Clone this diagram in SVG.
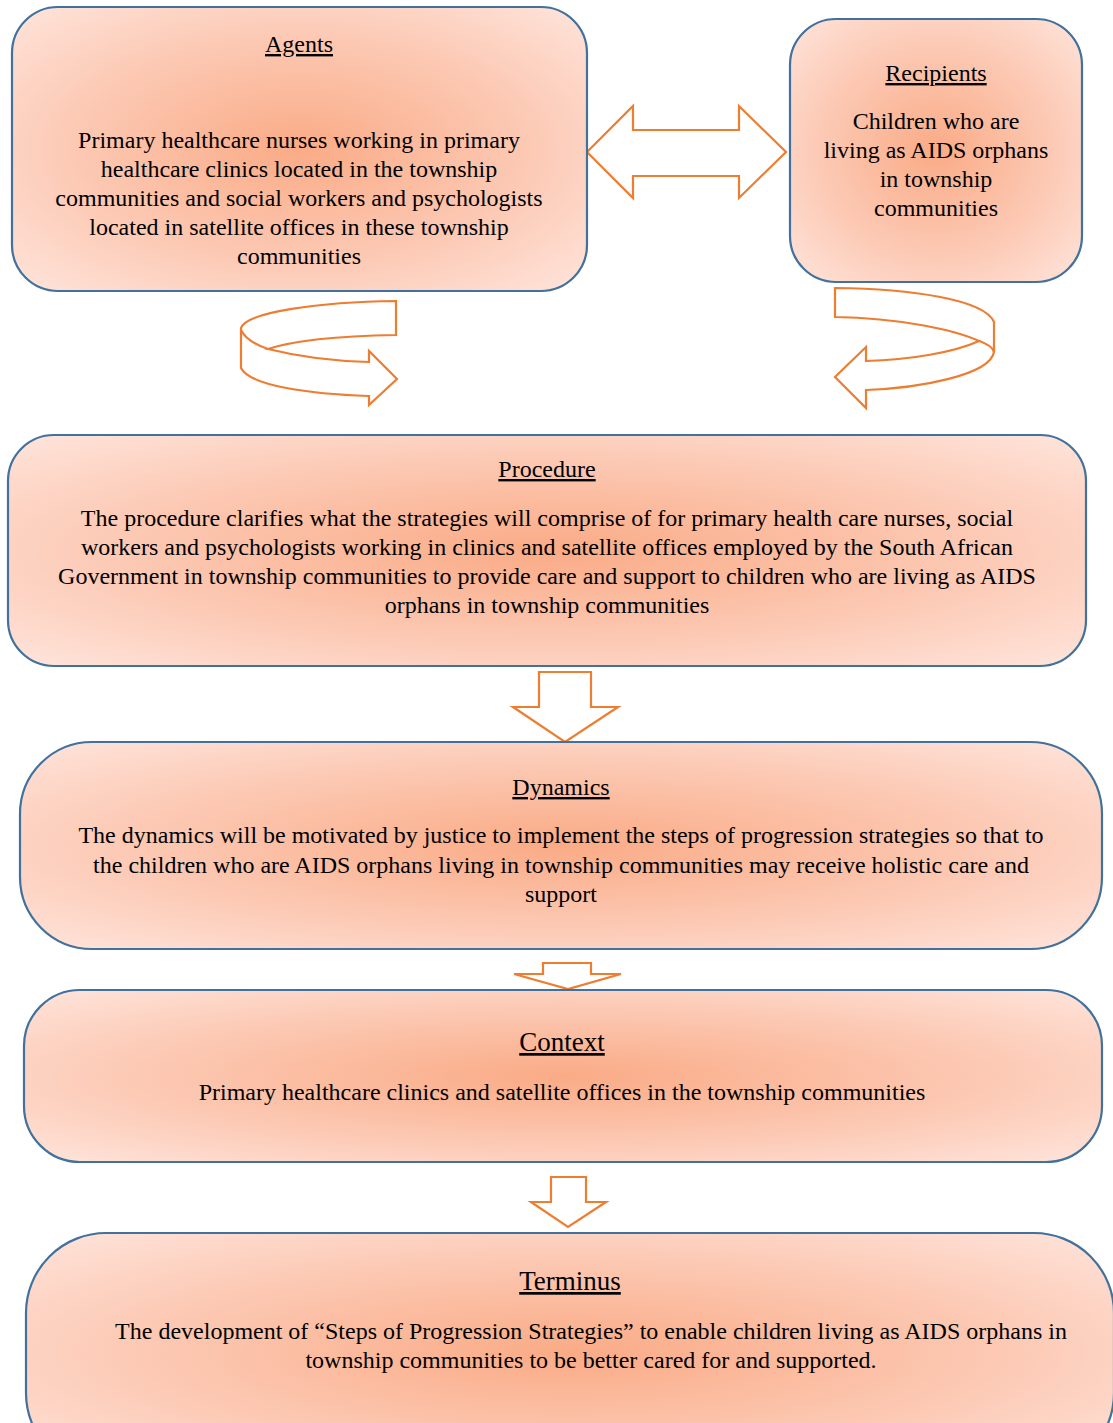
<svg xmlns="http://www.w3.org/2000/svg" width="1113" height="1423" viewBox="0 0 1113 1423">
<defs>
<radialGradient id="g" cx="0.5" cy="0.5" r="0.72" gradientUnits="objectBoundingBox">
<stop offset="0" stop-color="#FAAB86"/>
<stop offset="0.55" stop-color="#FCC9B4"/>
<stop offset="1" stop-color="#FFE6DE"/>
</radialGradient>
<style>
.box{fill:url(#g);stroke:#41719C;stroke-width:2.2}
.arr{fill:#FFFFFF;stroke:#ED7D31;stroke-width:2.2;stroke-linejoin:miter}
.fold{fill:none;stroke:#ED7D31;stroke-width:2.2}
text{font-family:"Liberation Serif","Times New Roman",serif;font-size:24px;fill:#000;text-anchor:middle}
.t{text-decoration:underline}
.big{font-size:27px}
</style>
</defs>
<rect width="1113" height="1423" fill="#FFFFFF"/>
<g id="connectors">
<path class="arr" d="M587,152 L633,106 L633,130 L739,130 L739,106 L786,152 L739,198 L739,176 L633,176 L633,198 Z"/>
<path class="arr" d="M396,301 L396,335 C340,336 292,341 268,349 C300,357 330,361 369,362 L369,351 L397,379 L369,405 L369,396 C310,394 250,386 241,368 L241,328 C246,312 320,302 396,301 Z"/>
<path class="fold" d="M268,349 C256,345 245,338 241,330"/>
<path class="arr" d="M835,288 C910,289 984,299 994,322 L994,352 C990,375 920,388 866,390 L866,408 L835,377 L866,347 L866,361 C910,360 955,352 979,341 C955,330 900,318 835,317 Z"/>
<path class="fold" d="M979,341 C988,344 993,348 994,352"/>
<path class="arr" d="M539,672 L591,672 L591,707 L618,707 L565,742 L513,707 L539,707 Z"/>
<path class="arr" d="M543,963 L591,963 L591,974 L621,974 L568,989 L514,974 L543,974 Z"/>
<path class="arr" d="M551,1177 L586,1177 L586,1202 L606,1202 L568,1227 L531,1202 L551,1202 Z"/>
</g>
<g id="agents">
<rect class="box" x="12" y="7" width="575" height="284" rx="46" ry="46"/>
<text class="t" x="299" y="52">Agents</text>
<text x="299" y="148">Primary healthcare nurses working in primary</text>
<text x="299" y="177">healthcare clinics located in the township</text>
<text x="299" y="206">communities and social workers and psychologists</text>
<text x="299" y="235">located in satellite offices in these township</text>
<text x="299" y="264">communities</text>
</g>
<g id="recipients">
<rect class="box" x="790" y="19" width="292" height="263" rx="46" ry="46"/>
<text class="t" x="936" y="81">Recipients</text>
<text x="936" y="129">Children who are</text>
<text x="936" y="158">living as AIDS orphans</text>
<text x="936" y="187">in township</text>
<text x="936" y="216">communities</text>
</g>
<g id="procedure">
<rect class="box" x="8" y="435" width="1078" height="231" rx="46" ry="46"/>
<text class="t" x="547" y="477">Procedure</text>
<text x="547" y="526">The procedure clarifies what the strategies will comprise of for primary health care nurses, social</text>
<text x="547" y="555">workers and psychologists working in clinics and satellite offices employed by the South African</text>
<text x="547" y="584">Government in township communities to provide care and support to children who are living as AIDS</text>
<text x="547" y="613">orphans in township communities</text>
</g>
<g id="dynamics">
<rect class="box" x="20" y="742" width="1082" height="207" rx="72" ry="72"/>
<text class="t" x="561" y="795">Dynamics</text>
<text x="561" y="843">The dynamics will be motivated by justice to implement the steps of progression strategies so that to</text>
<text x="561" y="873">the children who are AIDS orphans living in township communities may receive holistic care and</text>
<text x="561" y="902">support</text>
</g>
<g id="context">
<rect class="box" x="24" y="990" width="1078" height="172" rx="56" ry="56"/>
<text class="t big" x="562" y="1051">Context</text>
<text x="562" y="1100">Primary healthcare clinics and satellite offices in the township communities</text>
</g>
<g id="terminus">
<rect class="box" x="26" y="1233" width="1088" height="240" rx="80" ry="80"/>
<text class="t big" x="570" y="1290">Terminus</text>
<text x="591" y="1339">The development of “Steps of Progression Strategies” to enable children living as AIDS orphans in</text>
<text x="591" y="1368">township communities to be better cared for and supported.</text>
</g>
</svg>
